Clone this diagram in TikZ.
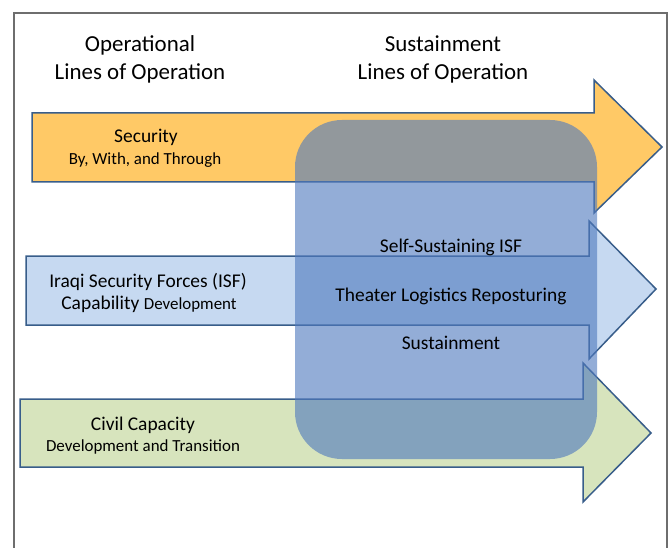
\documentclass[tikz,border=0pt]{standalone}
\usepackage{fontspec}
\setmainfont{Carlito}
\definecolor{secfill}{RGB}{255,201,102}
\definecolor{isffill}{RGB}{198,217,241}
\definecolor{civfill}{RGB}{215,228,189}
\definecolor{arrline}{RGB}{56,93,138}
\definecolor{ovlblue}{RGB}{80,122,190}
\definecolor{framecol}{RGB}{110,110,110}
\begin{document}
\begin{tikzpicture}[x=1bp,y=-1bp,
  lop/.style={draw=arrline,line width=1.5bp,line join=miter},
  ttl/.style={anchor=base,inner sep=0pt,font=\fontsize{23}{28}\selectfont},
  big/.style={anchor=base,inner sep=0pt,font=\fontsize{19.5}{23}\selectfont},
  small/.style={anchor=base,inner sep=0pt,font=\fontsize{17}{20}\selectfont}]
\useasboundingbox (0,0) rectangle (668,548);
% frame
\draw[framecol,line width=1.3bp] (14,548) -- (14,13) -- (667,13) -- (667,548);
% titles
\node[ttl] (t1a) at (140,52) {Operational};
\node[ttl] (t1b) at (140,80) {Lines of Operation};
\node[ttl] (t2a) at (443,52) {Sustainment};
\node[ttl] (t2b) at (443,80) {Lines of Operation};
% arrows
\path[lop,fill=secfill] (32,113) -- (594,113) -- (594,80) -- (662,147) -- (594,213) -- (594,182) -- (32,182) -- cycle;
\path[lop,fill=isffill] (26,256) -- (589,256) -- (589,221) -- (656,289) -- (589,359) -- (589,325) -- (26,325) -- cycle;
\path[lop,fill=civfill] (20,399) -- (583,399) -- (583,363) -- (651,433) -- (583,502) -- (583,467) -- (20,467) -- cycle;
% labels
\node[big] (sec1) at (146,143) {Security};
\node[small] (sec2) at (145,165) {By, With, and Through};
\node[big] (isf1) at (148,287) {Iraqi Security Forces (ISF)};
\node[anchor=base,inner sep=0pt] (isf2) at (149,309) {\fontsize{19.5}{23}\selectfont Capability \fontsize{17}{20}\selectfont Development};
\node[big] (civ1) at (143,430) {Civil Capacity};
\node[small] (civ2) at (143,451) {Development and Transition};
% translucent sustainment block
\fill[ovlblue,fill opacity=0.62,rounded corners=47bp] (295,120) rectangle (597,459);
\node[big] (s1) at (451,253) {Self-Sustaining ISF};
\node[big] (s2) at (451,301) {Theater Logistics Reposturing};
\node[big] (s3) at (451,349) {Sustainment};
\end{tikzpicture}
\end{document}
